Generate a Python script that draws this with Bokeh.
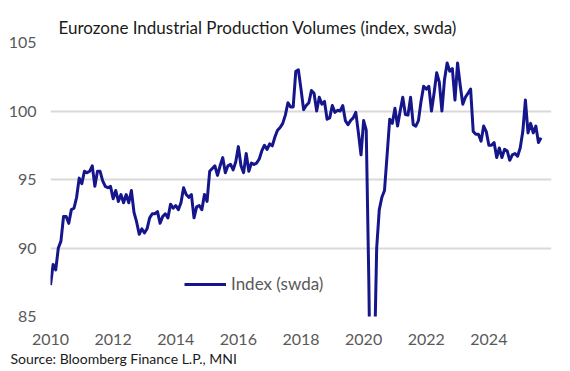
from bokeh.plotting import figure
from bokeh.models import FixedTicker, Title, ColumnDataSource
from bokeh.embed import file_html
from bokeh.resources import INLINE

# Monthly index values (swda), Jan 2010 onwards
y2010 = [87.3, 88.8, 88.4, 90.0, 90.5, 92.3, 92.3, 91.8, 92.8, 92.9, 93.7, 95.1]
y2011 = [94.7, 95.6, 95.5, 95.6, 96.0, 94.5, 95.6, 95.6, 94.9, 94.5, 94.4, 94.5]
y2012 = [93.6, 94.2, 93.4, 93.9, 93.3, 93.9, 93.3, 94.2, 92.6, 91.9, 91.0, 91.4]
y2013 = [91.1, 91.4, 92.2, 92.5, 92.5, 92.65, 91.8, 92.3, 92.5, 92.2, 93.2, 92.9]
y2014 = [93.1, 92.8, 93.3, 94.4, 93.9, 93.7, 93.9, 92.2, 93.0, 93.1, 92.8, 93.9]
y2015 = [93.4, 95.6, 95.8, 96.0, 95.3, 96.0, 96.6, 95.5, 96.0, 96.1, 95.7, 96.3]
y2016 = [97.4, 96.0, 95.5, 96.9, 95.6, 96.2, 96.1, 96.2, 96.5, 97.1, 97.5, 97.2]
y2017 = [97.6, 97.45, 98.1, 98.6, 98.8, 99.1, 99.7, 100.6, 100.3, 100.3, 102.9, 103.0]
y2018 = [101.6, 100.1, 100.4, 100.6, 101.5, 101.3, 100.0, 101.0, 100.5, 100.7, 99.4, 99.5]
y2019 = [100.4, 99.9, 100.05, 100.0, 100.4, 99.3, 99.0, 99.3, 99.5, 99.9, 98.4, 96.8]
y2020 = [99.3, 98.6, 87.5, 72.5, 80.5, 90.0, 92.8, 93.7, 94.2, 96.8, 99.4, 99.1]
y2021 = [100.2, 98.9, 100.0, 101.0, 99.75, 99.7, 101.0, 99.0, 98.9, 99.3, 100.7, 101.8]
y2022 = [101.6, 101.8, 100.0, 101.3, 102.8, 102.1, 100.0, 102.3, 103.5, 102.9, 103.1, 100.8]
y2023 = [103.5, 101.9, 100.5, 101.0, 101.3, 101.6, 98.5, 98.3, 98.3, 97.8, 98.9, 98.5]
y2024 = [97.5, 97.5, 97.7, 96.6, 97.3, 96.6, 97.2, 97.1, 96.4, 96.8, 96.9, 96.7]
y2025 = [97.3, 98.5, 100.8, 98.4, 99.1, 98.4, 98.9, 97.7, 98.05]

start_year = 2010
x_ticks = [2010, 2012, 2014, 2016, 2018, 2020, 2022, 2024]
y_ticks = [85, 90, 95, 100, 105]
series_label = "Index (swda)"
title_text = "Eurozone Industrial Production Volumes (index, swda)"
source_text = "Source: Bloomberg Finance L.P., MNI"

values = (y2010 + y2011 + y2012 + y2013 + y2014 + y2015 + y2016 + y2017 +
          y2018 + y2019 + y2020 + y2021 + y2022 + y2023 + y2024 + y2025)
dates = [start_year + i / 12 for i in range(len(values))]
src = ColumnDataSource(dict(x=dates, y=values))

FONT = "Lato"
GREY = "#595959"

p = figure(frame_width=501, frame_height=274, x_range=(2010, 2026), y_range=(85, 105),
           output_backend="svg", toolbar_location=None,
           min_border_left=50, min_border_right=19, min_border_top=42, min_border_bottom=10)

p.title.text = title_text
p.title.align = "left"
p.title.offset = 8
p.title.text_font = FONT
p.title.text_font_size = "17px"
p.title.text_font_style = "normal"
p.title.text_color = "#1a1a1a"

p.line("x", "y", source=src, line_color="#16168c", line_width=3,
       line_join="round", legend_label=series_label)

p.outline_line_color = None
p.background_fill_color = "white"
p.xgrid.visible = False
p.ygrid.grid_line_color = "#d9d9d9"
p.ygrid.grid_line_width = 2

p.xaxis.ticker = FixedTicker(ticks=x_ticks)
p.yaxis.ticker = FixedTicker(ticks=y_ticks)
for ax in (p.xaxis, p.yaxis):
    ax.axis_line_color = None
    ax.major_tick_line_color = None
    ax.minor_tick_line_color = None
    ax.major_tick_out = 0
    ax.major_tick_in = 0
    ax.major_label_text_font = FONT
    ax.major_label_text_font_size = "16px"
    ax.major_label_text_color = GREY
p.yaxis.major_label_standoff = 14
p.xaxis.major_label_standoff = 17

leg = p.legend[0]
leg.location = (134, 22)
leg.glyph_width = 42
leg.label_standoff = 5
leg.padding = 0
leg.margin = 0
leg.border_line_alpha = 0
leg.background_fill_alpha = 0
leg.label_text_font = FONT
leg.label_text_font_size = "17px"
leg.label_text_color = GREY

src_title = Title(text=source_text, align="left", offset=-40, standoff=0,
                  text_font=FONT, text_font_size="14px", text_font_style="normal",
                  text_color="#1a1a1a")
p.add_layout(src_title, "below")

open("out.html", "w").write(file_html(p, INLINE))
